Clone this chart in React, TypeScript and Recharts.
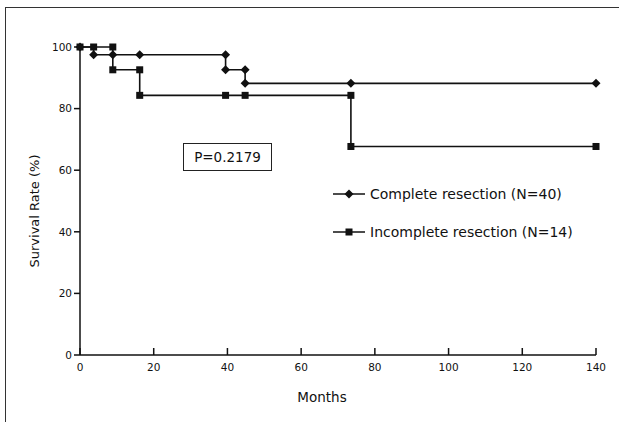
import { LineChart, Line, XAxis, YAxis, Legend, Label } from "recharts";

const monthTicks = [0, 20, 40, 60, 80, 100, 120, 140];
const rateTicks = [0, 20, 40, 60, 80, 100];

const completeName = "Complete resection (N=40)";
const completeMonths = [0, 3.7, 8.9, 16.2, 39.5, 39.5, 44.8, 44.8, 73.5, 140];
const completeRates = [100, 97.5, 97.5, 97.5, 97.5, 92.6, 92.6, 88.2, 88.2, 88.2];

const incompleteName = "Incomplete resection (N=14)";
const incompleteMonths = [0, 3.7, 8.9, 8.9, 16.2, 16.2, 39.5, 44.8, 73.5, 73.5, 140];
const incompleteRates = [100, 100, 100, 92.6, 92.6, 84.3, 84.3, 84.3, 84.3, 67.7, 67.7];

const completeData = completeMonths.map((m, i) => ({ month: m, rate: completeRates[i] }));
const incompleteData = incompleteMonths.map((m, i) => ({ month: m, rate: incompleteRates[i] }));

const FONT = '"DejaVu Sans", sans-serif';
const INK = "#111";

const Diamond = ({ cx, cy }: any) => (
  <path d={`M${cx},${cy - 4.5}L${cx + 4.5},${cy}L${cx},${cy + 4.5}L${cx - 4.5},${cy}Z`} fill={INK} />
);

const Square = ({ cx, cy }: any) => (
  <rect x={cx - 3.5} y={cy - 3.5} width={7} height={7} fill={INK} />
);

const diamondDot = (p: any) => <Diamond key={`d${p.index}`} cx={p.cx} cy={p.cy} />;
const squareDot = (p: any) => <Square key={`s${p.index}`} cx={p.cx} cy={p.cy} />;

// x ticks point up into the plot, labels sit below the axis
const MonthTick = ({ x, y, payload }: any) => (
  <g>
    <line x1={x} y1={y} x2={x} y2={y - 7} stroke={INK} strokeWidth={1.5} />
    <text x={x} y={y + 16} textAnchor="middle" fontSize={10.5} fontFamily={FONT} fill={INK}>
      {payload.value}
    </text>
  </g>
);

const markers: Record<string, any> = { [completeName]: Diamond, [incompleteName]: Square };

const LegendBox = ({ payload }: any) => (
  <div style={{ fontFamily: FONT, fontSize: 14, color: INK }}>
    {(payload || []).map((item: any) => {
      const Mark = markers[item.value] || Diamond;
      return (
        <div key={item.value} style={{ display: "flex", alignItems: "center", height: 38 }}>
          <svg width={34} height={14} style={{ marginRight: 3 }}>
            <line x1={0} y1={7} x2={32} y2={7} stroke={INK} strokeWidth={1.5} />
            <Mark cx={16} cy={7} />
          </svg>
          <span>{item.value}</span>
        </div>
      );
    })}
  </div>
);

export default function App() {
  return (
    <div style={{ position: "absolute", left: 0, top: 0, width: 619, height: 422, background: "#fff" }}>
      <div
        style={{
          position: "absolute",
          left: 5,
          top: 7,
          right: 0,
          bottom: 0,
          borderLeft: "1.5px solid #333",
          borderTop: "1.5px solid #333",
        }}
      />
      <LineChart width={619} height={422} margin={{ top: 47, right: 23, bottom: 37, left: 40 }}>
        <XAxis
          dataKey="month"
          type="number"
          domain={[0, 140]}
          ticks={monthTicks}
          height={30}
          tickLine={false}
          tickSize={0}
          tickMargin={0}
          tick={<MonthTick />}
          axisLine={{ stroke: INK, strokeWidth: 1.5 }}
        >
          <Label
            content={({ viewBox }: any) => (
              <text
                x={viewBox.x + viewBox.width / 2 - 16}
                y={viewBox.y + 47}
                textAnchor="middle"
                fontSize={13.5}
                fontFamily={FONT}
                fill={INK}
              >
                Months
              </text>
            )}
          />
        </XAxis>
        <YAxis
          type="number"
          domain={[0, 100]}
          ticks={rateTicks}
          width={40}
          tickSize={6}
          tickMargin={2}
          tick={{ fontSize: 10.5, fontFamily: FONT, fill: INK }}
          tickLine={{ stroke: INK, strokeWidth: 1.5 }}
          axisLine={{ stroke: INK, strokeWidth: 1.5 }}
        >
          <Label
            content={({ viewBox }: any) => {
              const cx = viewBox.x - 6;
              const cy = viewBox.y + viewBox.height / 2 + 10;
              return (
                <text
                  x={cx}
                  y={cy}
                  transform={`rotate(-90 ${cx} ${cy})`}
                  textAnchor="middle"
                  dominantBaseline="central"
                  fontSize={13}
                  fontFamily={FONT}
                  fill={INK}
                >
                  Survival Rate (%)
                </text>
              );
            }}
          />
        </YAxis>
        <Legend
          layout="vertical"
          align="center"
          verticalAlign="middle"
          content={<LegendBox />}
          wrapperStyle={{ left: 333, top: 175, width: 270 }}
        />
        <Line
          data={completeData}
          dataKey="rate"
          name={completeName}
          type="stepAfter"
          stroke={INK}
          strokeWidth={1.6}
          dot={diamondDot}
          activeDot={false}
          legendType="line"
          isAnimationActive={false}
        />
        <Line
          data={incompleteData}
          dataKey="rate"
          name={incompleteName}
          type="stepAfter"
          stroke={INK}
          strokeWidth={1.6}
          dot={squareDot}
          activeDot={false}
          legendType="line"
          isAnimationActive={false}
        />
      </LineChart>
      <div
        style={{
          position: "absolute",
          left: 183,
          top: 143,
          width: 89,
          height: 28,
          boxSizing: "border-box",
          border: "1.3px solid #222",
          display: "flex",
          alignItems: "center",
          justifyContent: "center",
          fontFamily: FONT,
          fontSize: 13.5,
          color: INK,
        }}
      >
        P=0.2179
      </div>
    </div>
  );
}
